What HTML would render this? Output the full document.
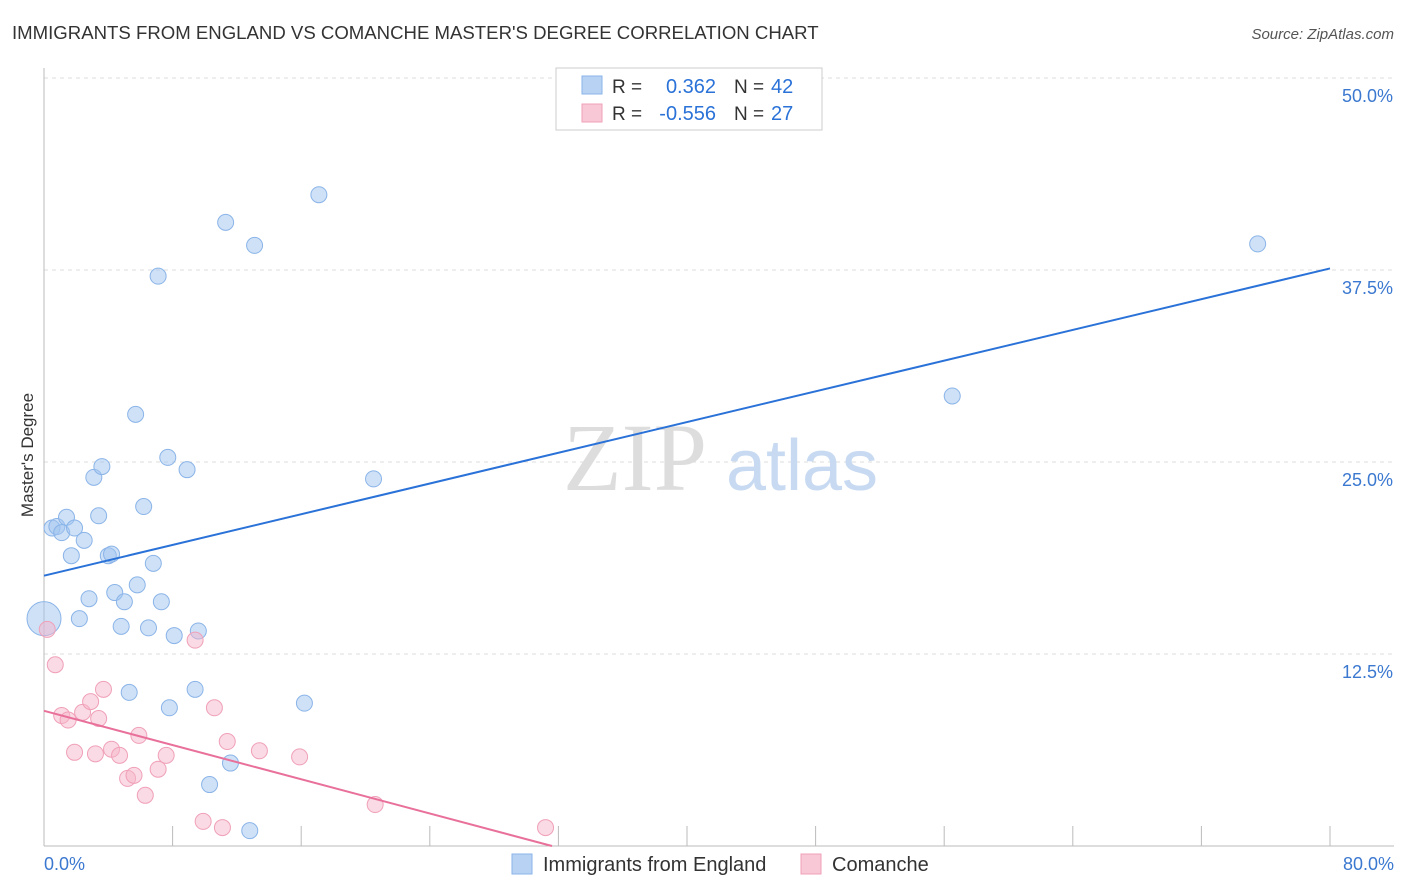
<!DOCTYPE html>
<html><head><meta charset="utf-8"><style>
body{margin:0;background:#fff;font-family:"Liberation Sans",sans-serif;}
svg{display:block}
</style></head><body>
<svg id="chart" width="1406" height="892">
<text x="12" y="39" font-size="18.6" fill="#333">IMMIGRANTS FROM ENGLAND VS COMANCHE MASTER'S DEGREE CORRELATION CHART</text>
<text x="1394" y="39" font-size="15" fill="#555" text-anchor="end" font-style="italic">Source: ZipAtlas.com</text>
<text x="0" y="0" transform="translate(33,455) rotate(-90)" font-size="17" fill="#333" text-anchor="middle">Master's Degree</text>
<g id="grid"></g>
<g>
<text x="635" y="490" font-size="96" fill="#ddd" font-family="Liberation Serif,serif" text-anchor="middle">ZIP</text>
<text x="802" y="490" font-size="72" fill="#c8daf2" text-anchor="middle">atlas</text>
</g>
<g id="marks"></g>
<g>
<rect x="556" y="68" width="266" height="62" fill="#fff" stroke="#ccc"/>
<rect x="582" y="76" width="20" height="18" fill="#b8d2f4" stroke="#8ab4e8"/>
<rect x="582" y="104" width="20" height="18" fill="#f8c8d6" stroke="#f0a0b8"/>
<text x="612" y="93" font-size="19" fill="#333">R = </text><text x="716" y="93" font-size="20" fill="#2a72d8" text-anchor="end">0.362</text>
<text x="734" y="93" font-size="19" fill="#333">N = </text><text x="771" y="93" font-size="20" fill="#2a72d8">42</text>
<text x="612" y="120" font-size="19" fill="#333">R = </text><text x="716" y="120" font-size="20" fill="#2a72d8" text-anchor="end">-0.556</text>
<text x="734" y="120" font-size="19" fill="#333">N = </text><text x="771" y="120" font-size="20" fill="#2a72d8">27</text>
</g>
<g>
<rect x="512" y="854" width="20" height="20" fill="#b8d2f4" stroke="#8ab4e8"/>
<text x="543" y="871" font-size="20" fill="#333">Immigrants from England</text>
<rect x="801" y="854" width="20" height="20" fill="#f8c8d6" stroke="#f0a0b8"/>
<text x="832" y="871" font-size="20" fill="#333">Comanche</text>
</g>
</svg>
<script>
const yTicks=[12.5,25,37.5,50];
const yTickLabels=["12.5%","25.0%","37.5%","50.0%"];
const xTicks=[0,8,16,24,32,40,48,56,64,72,80];
const englandX=[0,0.5,0.8,1.1,1.4,1.7,1.9,2.2,2.5,2.8,3.1,3.4,3.6,4.0,4.2,4.4,4.8,5.0,5.3,5.7,5.8,6.2,6.5,6.8,7.1,7.3,7.7,7.8,8.1,8.9,9.4,9.6,10.3,11.3,11.6,12.8,13.1,16.2,17.1,20.5,56.5,75.5];
const englandY=[14.8,20.7,20.8,20.4,21.4,18.9,20.7,14.8,19.9,16.1,24.0,21.5,24.7,18.9,19.0,16.5,14.3,15.9,10.0,28.1,17.0,22.1,14.2,18.4,37.1,15.9,25.3,9.0,13.7,24.5,10.2,14.0,4.0,40.6,5.4,1.0,39.1,9.3,42.4,23.9,29.3,39.2];
const comancheX=[0.2,0.7,1.1,1.5,1.9,2.4,2.9,3.4,3.2,3.7,4.2,4.7,5.2,5.6,5.9,6.3,7.1,7.6,9.4,9.9,10.6,11.1,11.4,13.4,15.9,20.6,31.2];
const comancheY=[14.1,11.8,8.5,8.2,6.1,8.7,9.4,8.3,6.0,10.2,6.3,5.9,4.4,4.6,7.2,3.3,5.0,5.9,13.4,1.6,9.0,1.2,6.8,6.2,5.8,2.7,1.2];
const englandTrend=[[0,17.6],[80,37.6]];
const comancheTrend=[[0,8.8],[31.6,0]];
const NS="http://www.w3.org/2000/svg";
const X=v=>44+v*(1330-44)/80;
const Y=v=>846-v*(846-78)/50;
function mk(tag,attrs,parent){const e=document.createElementNS(NS,tag);for(const k in attrs)e.setAttribute(k,attrs[k]);parent.appendChild(e);return e;}
const grid=document.getElementById('grid'),marks=document.getElementById('marks');
yTicks.forEach((t,i)=>{
 const l=mk('line',{x1:44,y1:Y(t),x2:1394,y2:Y(t),stroke:'#ddd','stroke-dasharray':'4,4'},grid);
 
 
 const tx=mk('text',{x:1393,y:Y(t)+24,'font-size':18,fill:'#3b78d0','text-anchor':'end'},grid);tx.textContent=yTickLabels[i];
 
 
});
mk('line',{x1:44,y1:68,x2:44,y2:846,stroke:'#bbb'},grid);
mk('line',{x1:44,y1:846,x2:1394,y2:846,stroke:'#bbb'},grid);
xTicks.forEach(t=>{const l=mk('line',{x1:X(t),y1:826,x2:X(t),y2:846,stroke:'#bbb'},grid);
 
 });
const xl0=mk('text',{x:44,y:870,'font-size':18,fill:'#3b78d0'},grid);xl0.textContent='0.0%';


const xl1=mk('text',{x:1394,y:870,'font-size':18,fill:'#3b78d0','text-anchor':'end'},grid);xl1.textContent='80.0%';


englandX.forEach((v,i)=>{const c=mk('circle',{cx:X(v),cy:Y(englandY[i]),r:i==0?17:8,fill:'rgba(160,196,240,0.5)',stroke:'#8ab4e8','stroke-width':1},marks);
 
 });
comancheX.forEach((v,i)=>{const c=mk('circle',{cx:X(v),cy:Y(comancheY[i]),r:8,fill:'rgba(246,182,202,0.5)',stroke:'#f0a0b8','stroke-width':1},marks);
 
 });
const t1=mk('line',{x1:X(englandTrend[0][0]),y1:Y(englandTrend[0][1]),x2:X(englandTrend[1][0]),y2:Y(englandTrend[1][1]),stroke:'#2a72d8','stroke-width':2},marks);


const t2=mk('line',{x1:X(comancheTrend[0][0]),y1:Y(comancheTrend[0][1]),x2:X(comancheTrend[1][0]),y2:Y(comancheTrend[1][1]),stroke:'#e8709a','stroke-width':2},marks);


</script>
</body></html>
